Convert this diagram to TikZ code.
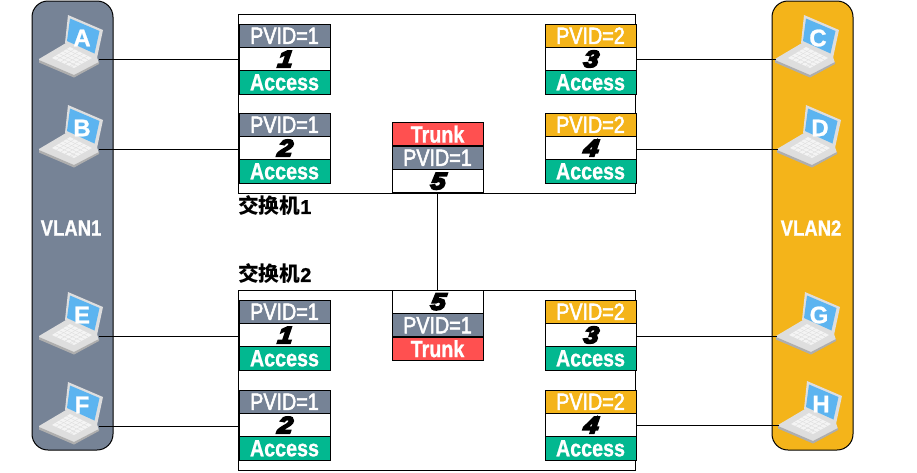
\documentclass[tikz,border=0pt]{standalone}
\usepackage{fontspec}
\usepackage{graphicx}
\setmainfont{Liberation Sans}
\newfontfamily\cjkfont{Noto Sans CJK SC}
\newfontfamily\digfont[FakeBold=8,FakeSlant=0.12,FakeStretch=1.15]{Liberation Sans Bold Italic}
\newfontfamily\pvfont[FakeBold=2.5]{Liberation Sans}
\newfontfamily\acfont[FakeBold=1]{Liberation Sans Bold}
\definecolor{vgray}{HTML}{768396}
\definecolor{vorange}{HTML}{F4B41A}
\definecolor{vgreen}{HTML}{02B890}
\definecolor{vred}{HTML}{FF5050}
\definecolor{lapblue}{HTML}{5CB4F0}
\definecolor{lapbody}{HTML}{DEDEDE}
\definecolor{lapkeys}{HTML}{F4F4F4}
\definecolor{lapedge}{HTML}{AEAEAE}
\newcommand{\sq}[1]{\scalebox{.84}[1]{#1}}
\tikzset{
  x=.75pt,y=-.75pt,
  line/.style={draw=black,line width=.75pt},
  cell/.style={draw=black,line width=.75pt,inner sep=0,outer sep=0,minimum width=68.25pt,minimum height=17.6pt,anchor=north west},
  pvid/.style={cell,text=white,font=\pvfont\fontsize{17.6}{17}\selectfont},
  access/.style={cell,fill=vgreen,text=white,font=\acfont\fontsize{17.6}{17}\selectfont},
  trunk/.style={cell,fill=vred,text=white,font=\acfont\fontsize{17.6}{17}\selectfont},
  num/.style={cell,fill=white,text=black,font=\digfont\fontsize{17.5}{17}\selectfont},
  group/.style={draw=black,line width=.75pt,rounded corners=12pt},
  grouplabel/.style={text=white,font=\acfont\fontsize{16.5}{16}\selectfont,inner sep=0},
  title/.style={anchor=west,inner sep=0,font=\cjkfont\bfseries\fontsize{15.5}{16}\selectfont},
  switchbox/.style={draw=black,line width=.75pt,fill=white},
  keyline/.style={draw=lapbody,line width=.3pt},
  pics/laptop/.style={code={
    \fill[lapbody] (-43,21) -- (-16,5) -- (15,19) -- (17,25) -- (-8,39) -- (-43,24) -- cycle;
    \fill[lapkeys] (-30,20) -- (-12,9) -- (10,20) -- (-8,30) -- cycle;
    \foreach \t in {.2,.4,.6,.8}{
      \draw[keyline] ({-30+18*\t},{20-11*\t}) -- ({-8+18*\t},{30-10*\t});
      \draw[keyline] ({-30+22*\t},{20+10*\t}) -- ({-12+22*\t},{9+11*\t});
    }
    \draw[keyline] (-21,28) -- (-13,24) -- (-7,27) -- (-15,31) -- cycle;
    \fill[lapedge] (-43,22) -- (-8,37) -- (17,24) -- (17,26) -- (-8,39.5) -- (-43,24.5) -- cycle;
    \fill[lapbody] (-14,-23) -- (21,-8) -- (15,20) -- (-17,5) -- cycle;
    \fill[lapblue] (-12,-19.5) -- (17.5,-7) -- (12.5,15.5) -- (-15,3) -- cycle;
    \node[text=white,font=\acfont\fontsize{18}{18}\selectfont,inner sep=0] (-label) at (0,0) {#1};
    \coordinate (-r) at (17,21);
    \coordinate (-l) at (-42,21);
  }}
}
\newcommand{\accessport}[6]{% name, x, y, fill, pvid, number
  \node[pvid,fill=#4] (#1-p) at (#2,#3) {\sq{PVID=#5}};
  \node[num] (#1-n) at (#2,#3+23.3) {#6};
  \node[access] (#1-a) at (#2,#3+46.6) {\sq{Access}};
}
\begin{document}
\begin{tikzpicture}
\useasboundingbox (0,0) rectangle (917,472);
% VLAN groups
\draw[group,fill=vgray] (32,1) rectangle (113,450);
\draw[group,fill=vorange] (772,1) rectangle (853,450);
\node[grouplabel] (vlan1) at (71,228) {\sq{VLAN1}};
\node[grouplabel] (vlan2) at (811,228) {\sq{VLAN2}};
% switches
\draw[switchbox] (238,14) rectangle (635,193);
\draw[switchbox] (238,290) rectangle (635,470);
\node[title] (sw1) at (238,206) {交换机{\acfont\fontsize{15}{15}\selectfont 1}};
\node[title] (sw2) at (238,274) {交换机{\acfont\fontsize{15}{15}\selectfont 2}};
% switch 1 ports
\accessport{a1}{239}{24}{vgray}{1}{1}
\accessport{a2}{239}{113}{vgray}{1}{2}
\accessport{a3}{545}{24}{vorange}{2}{3}
\accessport{a4}{545}{113}{vorange}{2}{4}
\node[trunk] (t1a) at (392,122.5) {\sq{Trunk}};
\node[pvid,fill=vgray] (t1b) at (392,146) {\sq{PVID=1}};
\node[num] (t1n) at (392,169.5) {5};
% switch 2 ports
\accessport{b1}{239}{300}{vgray}{1}{1}
\accessport{b2}{239}{390}{vgray}{1}{2}
\accessport{b3}{545}{300}{vorange}{2}{3}
\accessport{b4}{545}{390}{vorange}{2}{4}
\node[num] (t2n) at (392,290) {5};
\node[pvid,fill=vgray] (t2b) at (392,313.5) {\sq{PVID=1}};
\node[trunk] (t2a) at (392,337) {\sq{Trunk}};
% laptops
\pic (A) at (82,38) {laptop=A};
\pic (B) at (82,128) {laptop=B};
\pic (E) at (82,315) {laptop=E};
\pic (F) at (82,405) {laptop=F};
\pic (C) at (818,38) {laptop=C};
\pic (D) at (820,128) {laptop=D};
\pic (G) at (819,315) {laptop=G};
\pic (H) at (821,404) {laptop=H};
% connectors
\draw[line] (A-r) -- (A-r -| a1-n.west);
\draw[line] (B-r) -- (B-r -| a2-n.west);
\draw[line] (E-r) -- (E-r -| b1-n.west);
\draw[line] (F-r) -- (F-r -| b2-n.west);
\draw[line] (C-l) -- (C-l -| a3-n.east);
\draw[line] (D-l) -- (D-l -| a4-n.east);
\draw[line] (G-l) -- (G-l -| b3-n.east);
\draw[line] (H-l) -- (H-l -| b4-n.east);
\draw[line] (t1n.south) -- (t2n.north);
\end{tikzpicture}
\end{document}
